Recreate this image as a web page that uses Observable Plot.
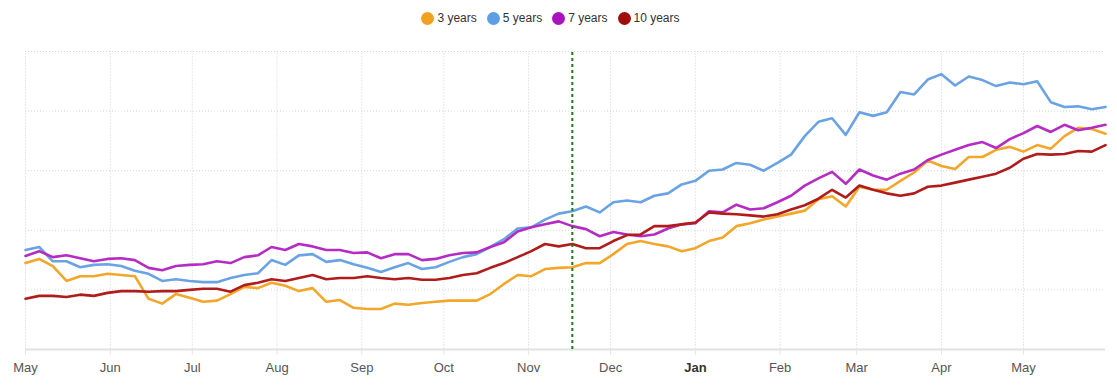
<!DOCTYPE html>
<html>
<head>
<meta charset="utf-8">
<script src="https://cdn.jsdelivr.net/npm/d3@7"></script>
<script src="https://cdn.jsdelivr.net/npm/@observablehq/plot@0.6"></script>
<style>
  html, body { margin: 0; padding: 0; background: #fff; }
  body { width: 1117px; height: 388px; overflow: hidden; font-family: "Liberation Sans", Arial, sans-serif; }
  #legend { height: 36px; display: flex; justify-content: center; align-items: center; gap: 10px; font-size: 12px; color: #333; padding-right: 16px; box-sizing: border-box; }
  .item { display: flex; align-items: center; gap: 3px; }
  .dot { width: 13px; height: 13px; border-radius: 50%; display: inline-block; }
  #chart svg { display: block; }
</style>
</head>
<body>
<div id="legend"></div>
<div id="chart"></div>
<script>
// Series names and colours
const seriesNames = ["3 years", "5 years", "7 years", "10 years"];
const legendColors = ["#f0a21e", "#5f9ee3", "#a813bf", "#a10d0d"];
const lineColors = ["#f2a62a", "#6aa3e3", "#b52cc4", "#b01c1c"];

// Sampling: every 5 days starting 1 May 2022
const startDate = "2022-05-01";
const stepDays = 5;

// Values
const threeYears = [1.45,1.52,1.40,1.15,1.23,1.23,1.27,1.25,1.23,0.85,0.77,0.93,0.87,0.80,0.82,0.93,1.05,1.03,1.12,1.07,
  0.98,1.03,0.80,0.83,0.70,0.68,0.68,0.77,0.75,0.78,0.80,0.82,0.82,0.82,0.93,1.10,1.25,1.23,1.35,1.37,
  1.38,1.45,1.45,1.60,1.77,1.82,1.77,1.73,1.65,1.70,1.82,1.88,2.07,2.12,2.18,2.23,2.28,2.33,2.52,2.57,
  2.40,2.73,2.68,2.68,2.83,2.97,3.17,3.08,3.03,3.23,3.23,3.35,3.40,3.32,3.43,3.37,3.58,3.72,3.70,3.62];
const fiveYears = [1.67,1.72,1.48,1.48,1.38,1.42,1.43,1.40,1.32,1.27,1.15,1.18,1.15,1.13,1.13,1.20,1.25,1.28,1.50,1.42,
  1.58,1.60,1.47,1.50,1.43,1.37,1.30,1.38,1.45,1.35,1.38,1.47,1.55,1.60,1.72,1.85,2.03,2.05,2.18,2.28,
  2.32,2.40,2.30,2.47,2.50,2.47,2.58,2.62,2.77,2.83,3.00,3.02,3.13,3.10,3.00,3.13,3.27,3.58,3.82,3.88,
  3.60,3.98,3.92,3.98,4.32,4.28,4.53,4.62,4.43,4.58,4.52,4.42,4.48,4.45,4.50,4.15,4.07,4.08,4.03,4.07];
const sevenYears = [1.57,1.65,1.55,1.58,1.53,1.48,1.52,1.53,1.50,1.37,1.33,1.40,1.42,1.43,1.48,1.45,1.55,1.58,1.72,1.67,
  1.77,1.73,1.67,1.67,1.62,1.63,1.53,1.60,1.60,1.50,1.52,1.58,1.62,1.63,1.72,1.80,1.98,2.05,2.10,2.15,
  2.07,2.02,1.90,1.97,1.93,1.90,1.93,2.03,2.10,2.12,2.32,2.30,2.43,2.35,2.37,2.47,2.58,2.75,2.87,2.98,
  2.78,3.02,2.92,2.85,2.95,3.02,3.18,3.27,3.35,3.43,3.48,3.38,3.53,3.63,3.75,3.65,3.77,3.68,3.72,3.77];
const tenYears = [0.85,0.90,0.90,0.88,0.92,0.90,0.95,0.98,0.98,0.97,0.98,0.98,1.00,1.02,1.02,0.97,1.08,1.12,1.18,1.15,
  1.20,1.25,1.18,1.20,1.20,1.23,1.20,1.18,1.20,1.17,1.17,1.20,1.25,1.28,1.37,1.45,1.55,1.65,1.77,1.73,
  1.77,1.70,1.70,1.82,1.92,1.93,2.07,2.07,2.10,2.13,2.30,2.28,2.27,2.25,2.23,2.27,2.35,2.42,2.53,2.68,
  2.55,2.75,2.68,2.62,2.58,2.62,2.73,2.75,2.80,2.85,2.90,2.95,3.05,3.20,3.28,3.27,3.28,3.33,3.32,3.43];

// Axis ticks
const monthTickDates = ["2022-05-01","2022-06-01","2022-07-01","2022-08-01","2022-09-01","2022-10-01","2022-11-01",
  "2022-12-01","2023-01-01","2023-02-01","2023-03-01","2023-04-01","2023-05-01"];
const monthLabels = ["May","Jun","Jul","Aug","Sep","Oct","Nov","Dec","Jan","Feb","Mar","Apr","May"];
const boldLabel = "Jan";
const yGridValues = [1, 2, 3, 4, 5];
const xDomain = ["2022-05-01", "2023-05-31"];
const yDomain = [0, 5];
const markerDate = "2022-11-17";

// Build tidy tables
const start = new Date(startDate + "T00:00:00Z");
const allSeries = [threeYears, fiveYears, sevenYears, tenYears];
const tables = allSeries.map((vals, s) => vals.map((v, i) => ({
  date: d3.utcDay.offset(start, i * stepDays), value: v, series: seriesNames[s]
})));
const parse = s => new Date(s + "T00:00:00Z");
const ticks = monthTickDates.map(parse);
const labelOf = new Map(ticks.map((t, i) => [+t, monthLabels[i]]));
const normalTicks = ticks.filter(t => labelOf.get(+t) !== boldLabel);
const boldTicks = ticks.filter(t => labelOf.get(+t) === boldLabel);

// Legend
const legend = document.getElementById("legend");
seriesNames.forEach((name, i) => {
  const it = document.createElement("div");
  it.className = "item";
  it.innerHTML = `<span class="dot" style="background:${legendColors[i]}"></span><span>${name}</span>`;
  legend.appendChild(it);
});

const chart = Plot.plot({
  width: 1117,
  height: 352,
  marginLeft: 25,
  marginRight: 12,
  marginTop: 15,
  marginBottom: 39,
  style: { fontFamily: "Liberation Sans, Arial, sans-serif", fontSize: "13px", color: "#555", background: "#fff" },
  x: { type: "utc", domain: xDomain.map(parse), axis: null },
  y: { domain: yDomain, axis: null },
  marks: [
    Plot.ruleX(ticks, { y1: yDomain[0], y2: yDomain[1], stroke: "#e8e8e8", strokeWidth: 1, strokeDasharray: "2,1" }),
    Plot.ruleY(yGridValues, { stroke: "#d6d6d6", strokeWidth: 1, strokeDasharray: "1,2" }),
    Plot.ruleY([0], { stroke: "#e2e2e2", strokeWidth: 2 }),
    Plot.axisX(normalTicks, { tickFormat: d => labelOf.get(+d), tickSize: 6, tickPadding: 7, stroke: "#e6e6e6", fill: "#555", fontSize: 13 }),
    Plot.axisX(boldTicks, { tickFormat: d => labelOf.get(+d), tickSize: 6, tickPadding: 7, stroke: "#e6e6e6", fill: "#333", fontSize: 13, fontWeight: "bold" }),
    ...tables.map((t, i) => Plot.lineY(t, { x: "date", y: "value", stroke: lineColors[i], strokeWidth: 2.6, strokeLinejoin: "round", strokeLinecap: "round" })),
    Plot.ruleX([parse(markerDate)], { y1: yDomain[0], y2: yDomain[1], stroke: "#1a7a1a", strokeWidth: 2, strokeDasharray: "3,3" })
  ]
});
document.getElementById("chart").appendChild(chart);
</script>
</body>
</html>
